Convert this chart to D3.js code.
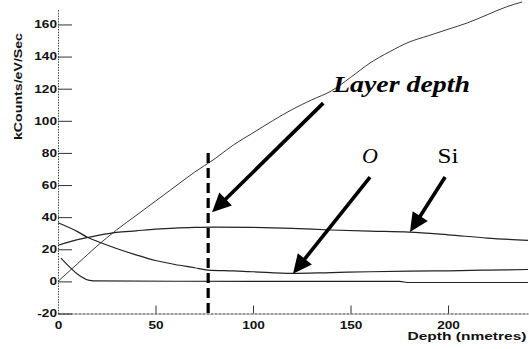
<!DOCTYPE html>
<html>
<head>
<meta charset="utf-8">
<script src="https://cdn.jsdelivr.net/npm/d3@7"></script>
<style>
  html, body { margin: 0; padding: 0; background: #fff; }
  svg { display: block; }
</style>
</head>
<body>
<svg id="chart" width="529" height="349"></svg>
<script>
// Depth profile: counts vs sputter depth
const depthTicks = [0, 50, 100, 150, 200];
const countTicks = [-20, 0, 20, 40, 60, 80, 100, 120, 140, 160];

// substrate signal rising with depth
const risingDepth = [0, 10, 20, 30, 40, 50, 60, 70, 80, 90, 100, 110, 120, 130, 140, 150, 160, 170, 180, 190, 200, 210, 220, 230, 238];
const risingValue = [0, 11, 22, 32, 41, 50, 59, 68, 76, 85, 92.5, 100, 107, 113, 118.5, 127, 136, 143, 149, 153, 157, 161, 166, 171, 174];

// Si
const siDepth = [0, 10, 20, 30, 40, 50, 60, 70, 80, 100, 120, 140, 160, 180, 200, 220, 241];
const siValue = [22.5, 26, 28.5, 30.5, 31.5, 32.5, 33.2, 33.6, 33.8, 33.6, 33, 32, 31.3, 30.7, 29, 27, 25.5];

// O
const oDepth = [0, 10, 15, 20, 30, 40, 50, 60, 70, 77, 90, 100, 120, 140, 160, 180, 200, 220, 241];
const oValue = [36.5, 31, 27.5, 25, 20.5, 16.5, 13, 10.5, 8.5, 7, 6.5, 6, 5, 5.5, 6, 6.4, 6.6, 7, 7.4];

// surface contaminant dropping to zero
const lowDepth = [1.5, 18, 60, 100, 140, 175, 180, 241];
const lowValue = [14.5, 0.3, 0.1, 0, 0, 0, -0.7, -0.7];

const layerDepth = 77;
const layerTop = 80;

// annotations: label text and arrow ends in data units
const labels = [
  { text: "Layer depth", d: 141, v: 118, style: "italic", weight: "bold", size: 23, width: 137, anchor: "start" },
  { text: "O", d: 160, v: 73.5, style: "italic", weight: "normal", size: 22, width: 0, anchor: "middle" },
  { text: "Si", d: 200, v: 73.5, style: "normal", weight: "normal", size: 22, width: 21, anchor: "middle" }
];
const arrows = [
  { d0: 136, v0: 111, d1: 79, v1: 43 },
  { d0: 160, v0: 65, d1: 120.5, v1: 4.8 },
  { d0: 198.5, v0: 65, d1: 180.5, v1: 30.7 }
];

const svg = d3.select("#chart");
const x = d3.scaleLinear().domain([0, 241]).range([58, 528]);
const y = d3.scaleLinear().domain([-20, 170]).range([313.5, 8.4]);

const ink = "#111";
const sans = "'Liberation Sans', Arial, sans-serif";

// widen a text element horizontally by a factor
function stretch(sel, k) {
  sel.each(function () {
    const w = this.getComputedTextLength();
    d3.select(this).attr("textLength", w * k).attr("lengthAdjust", "spacingAndGlyphs");
  });
}

// axes
const yAxis = d3.axisLeft(y).tickValues(countTicks).tickFormat(d => String(d)).tickSize(0).tickPadding(1);
const gy = svg.append("g").attr("transform", `translate(${x(0)},0)`).call(yAxis);
gy.select(".domain").attr("stroke", "#444").attr("stroke-dasharray", "1.5,1.2");
gy.selectAll("text")
  .attr("font-family", sans)
  .attr("font-weight", "bold").attr("font-size", 10.5).attr("fill", ink)
  .call(stretch, 1.3);
// ticks point into the plot
gy.selectAll(".tick").append("line")
  .attr("x1", 0).attr("x2", 14).attr("stroke", "#333").attr("stroke-width", 1);

const xAxis = d3.axisBottom(x).tickValues(depthTicks).tickFormat(d => String(d)).tickSize(0).tickPadding(8);
const gx = svg.append("g").attr("transform", `translate(0,${y(-20)})`).call(xAxis);
gx.select(".domain").attr("stroke", "#333").attr("stroke-dasharray", "3,1");
gx.selectAll("text")
  .attr("font-family", sans)
  .attr("font-weight", "bold").attr("font-size", 10.5).attr("fill", ink)
  .call(stretch, 1.3);
gx.selectAll(".tick").filter(d => d > 0).append("line")
  .attr("y1", 0).attr("y2", -8).attr("stroke", "#333").attr("stroke-width", 1);

svg.append("text")
  .attr("transform", "translate(22,86.5) rotate(-90)")
  .attr("text-anchor", "middle")
  .attr("font-family", sans)
  .attr("font-weight", "bold").attr("font-size", 11).attr("fill", ink)
  .attr("textLength", 107).attr("lengthAdjust", "spacingAndGlyphs")
  .text("kCounts/eV/Sec");

svg.append("text")
  .attr("x", 467).attr("y", 340)
  .attr("text-anchor", "middle")
  .attr("font-family", sans)
  .attr("font-weight", "bold").attr("font-size", 11.5).attr("fill", ink)
  .attr("textLength", 119).attr("lengthAdjust", "spacingAndGlyphs")
  .text("Depth (nmetres)");

// curves
const line = d3.line().x(d => x(d[0])).y(d => y(d[1])).curve(d3.curveMonotoneX);
const series = [
  { d: risingDepth, v: risingValue, w: 0.9 },
  { d: siDepth, v: siValue, w: 1.2 },
  { d: oDepth, v: oValue, w: 1.2 },
  { d: lowDepth, v: lowValue, w: 1.1 }
];
series.forEach(s => {
  svg.append("path")
    .datum(s.d.map((dd, i) => [dd, s.v[i]]))
    .attr("fill", "none").attr("stroke", "#222").attr("stroke-width", s.w)
    .attr("d", line);
});

// layer depth marker
svg.append("line")
  .attr("x1", x(layerDepth)).attr("x2", x(layerDepth))
  .attr("y1", y(layerTop)).attr("y2", y(-20))
  .attr("stroke", "#000").attr("stroke-width", 3.2)
  .attr("stroke-dasharray", "10,5");

// arrows
arrows.forEach(a => {
  const x0 = x(a.d0), y0 = y(a.v0), x1 = x(a.d1), y1 = y(a.v1);
  const ang = Math.atan2(y1 - y0, x1 - x0);
  const hl = 19, hw = 9;
  const bx = x1 - hl * Math.cos(ang), by = y1 - hl * Math.sin(ang);
  svg.append("line")
    .attr("x1", x0).attr("y1", y0).attr("x2", bx + 2 * Math.cos(ang)).attr("y2", by + 2 * Math.sin(ang))
    .attr("stroke", "#000").attr("stroke-width", 3.6);
  const px = -Math.sin(ang), py = Math.cos(ang);
  svg.append("polygon")
    .attr("points", [[x1, y1], [bx + hw * px, by + hw * py], [bx - hw * px, by - hw * py]].map(p => p.join(",")).join(" "))
    .attr("fill", "#000");
});

labels.forEach(l => {
  const t = svg.append("text")
    .attr("x", x(l.d)).attr("y", y(l.v))
    .attr("text-anchor", l.anchor)
    .attr("font-family", "'Liberation Serif', 'Times New Roman', serif")
    .attr("font-style", l.style).attr("font-weight", l.weight)
    .attr("font-size", l.size).attr("fill", "#000")
    .text(l.text);
  if (l.width) t.attr("textLength", l.width).attr("lengthAdjust", "spacingAndGlyphs");
});
</script>
</body>
</html>
